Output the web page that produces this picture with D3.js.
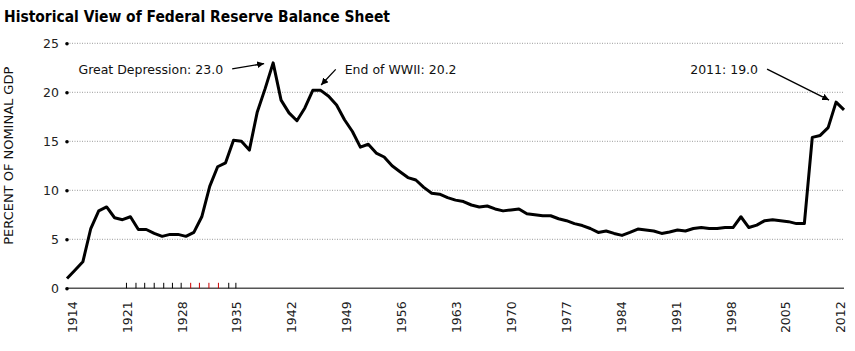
<!DOCTYPE html>
<html>
<head>
<meta charset="utf-8">
<script src="https://cdn.jsdelivr.net/npm/d3@7"></script>
<style>
  html, body { margin: 0; padding: 0; background: #fff; }
  svg { display: block; }
</style>
</head>
<body>
<div id="chart"></div>
<script>
// Fed balance sheet as % of nominal GDP, one value per year 1914..2012
const firstYear = 1914
const fedPct = [
  1.0, 1.85, 2.7, 6.1, 7.9, 8.3, 7.2, 7.0, 7.3, 6.0,
  6.0, 5.6, 5.3, 5.5, 5.5, 5.3, 5.7, 7.3, 10.4, 12.4,
  12.8, 15.1, 15.0, 14.1, 18.0, 20.4, 23.0, 19.2, 17.9, 17.1,
  18.4, 20.2, 20.2, 19.6, 18.7, 17.2, 16.0, 14.4, 14.7, 13.8,
  13.4, 12.5, 11.9, 11.3, 11.05, 10.3, 9.7, 9.6, 9.25, 9.0,
  8.85, 8.5, 8.3, 8.4, 8.1, 7.9, 8.0, 8.1, 7.6, 7.5,
  7.4, 7.4, 7.1, 6.9, 6.6, 6.4, 6.1, 5.7, 5.85, 5.6,
  5.4, 5.7, 6.05, 5.95, 5.85, 5.6, 5.75, 5.95, 5.85, 6.1,
  6.2, 6.1, 6.1, 6.2, 6.2, 7.3, 6.2, 6.45, 6.9, 7.0,
  6.9, 6.8, 6.6, 6.6, 15.4, 15.6, 16.4, 19.0, 18.2
]
const xTickYears = [1914, 1921, 1928, 1935, 1942, 1949, 1956, 1963, 1970, 1977, 1984, 1991, 1998, 2005, 2012]
const yTicks = [0, 5, 10, 15, 20, 25]

// small marks above the axis in the late 1920s / early 1930s
const markYears = [1921.5, 1922.7, 1923.8, 1925.0, 1926.2, 1927.3, 1928.4, 1929.6, 1930.7, 1931.9, 1933.1, 1934.4, 1935.3]
const markRed = [false, false, false, false, false, false, false, true, true, true, true, false, false]

const noteLabels = ["Great Depression: 23.0", "End of WWII: 20.2", "2011: 19.0"]
const noteYears = [1940, 1946, 2011]
const noteValues = [23.0, 20.2, 19.0]

const data = fedPct.map((v, i) => ({ year: firstYear + i, value: v }))

const width = 855
const height = 351
const plotLeft = 67, plotRight = 844, plotTop = 43.3, plotBottom = 288.3

const svg = d3.select("#chart")
  .append("svg")
  .attr("width", width)
  .attr("height", height)

const x = d3.scaleLinear().domain([1914, 2012]).range([plotLeft, plotRight])
const y = d3.scaleLinear().domain([0, 25]).range([plotBottom, plotTop])
// the category labels sit a little inside the line's ends
const xLabel = d3.scaleLinear().domain([1914, 2012]).range([plotLeft + 4.7, plotRight - 3.7])

const font = "'DejaVu Sans', Verdana, sans-serif"

// title
svg.append("text")
  .attr("x", 4)
  .attr("y", 22)
  .attr("font-family", font)
  .attr("font-weight", "bold")
  .attr("font-size", "15.5px")
  .attr("textLength", 386)
  .attr("lengthAdjust", "spacingAndGlyphs")
  .attr("fill", "#000")
  .text("Historical View of Federal Reserve Balance Sheet")

// y axis title
svg.append("text")
  .attr("transform", `translate(13,${(66.5 + 245) / 2}) rotate(-90)`)
  .attr("text-anchor", "middle")
  .attr("font-family", font)
  .attr("font-size", "12.5px")
  .attr("textLength", 178)
  .attr("lengthAdjust", "spacingAndGlyphs")
  .attr("fill", "#111")
  .text("PERCENT OF NOMINAL GDP")

// gridlines (dotted)
const grid = svg.append("g")
yTicks.filter(d => d > 0).forEach(t => {
  grid.append("line")
    .attr("x1", x(1914))
    .attr("x2", x(2012))
    .attr("y1", y(t))
    .attr("y2", y(t))
    .attr("stroke", "#9a9a9a")
    .attr("stroke-width", 1)
    .attr("stroke-dasharray", "1,1.5")
})

// x axis line at 0
svg.append("line")
  .attr("x1", x(1914))
  .attr("x2", x(2012))
  .attr("y1", y(0))
  .attr("y2", y(0))
  .attr("stroke", "#555")
  .attr("stroke-width", 1.5)

// y axis: labels and dots
const yAxis = svg.append("g")
  .attr("transform", `translate(${x(1914)},0)`)
  .call(d3.axisLeft(y).tickValues(yTicks).tickSize(0).tickPadding(8))
yAxis.select(".domain").remove()
yAxis.selectAll("text")
  .attr("font-family", font)
  .attr("font-size", "12.5px")
  .attr("fill", "#222")
yAxis.selectAll(".tick").append("circle")
  .attr("r", 1.8)
  .attr("fill", "#000")

// x axis labels, rotated
const xAxis = svg.append("g")
  .attr("transform", `translate(0,${y(0)})`)
  .call(d3.axisBottom(xLabel).tickValues(xTickYears).tickFormat(d3.format("d")).tickSize(0))
xAxis.select(".domain").remove()
xAxis.selectAll("text")
  .attr("font-family", font)
  .attr("font-size", "12.5px")
  .attr("fill", "#222")
  .attr("text-anchor", "end")
  .attr("transform", "rotate(-90)")
  .attr("x", -13)
  .attr("y", 0)
  .attr("dy", "0.36em")

// small marks
svg.append("g").selectAll("line")
  .data(markYears)
  .join("line")
  .attr("x1", d => x(d))
  .attr("x2", d => x(d))
  .attr("y1", y(0) - 5.5)
  .attr("y2", y(0))
  .attr("stroke", (d, i) => markRed[i] ? "#cc0000" : "#000")
  .attr("stroke-width", 1)

// the series
const line = d3.line()
  .x(d => x(d.year))
  .y(d => y(d.value))

svg.append("path")
  .datum(data)
  .attr("fill", "none")
  .attr("stroke", "#000")
  .attr("stroke-width", 3)
  .attr("stroke-linejoin", "round")
  .attr("d", line)

// arrow head
svg.append("defs").append("marker")
  .attr("id", "arrow")
  .attr("viewBox", "0 0 10 10")
  .attr("refX", 10)
  .attr("refY", 5)
  .attr("markerWidth", 7)
  .attr("markerHeight", 7)
  .attr("markerUnits", "userSpaceOnUse")
  .attr("orient", "auto")
  .append("path")
  .attr("d", "M0,0 L10,5 L0,10 z")
  .attr("fill", "#000")

// annotations: text position and arrow start/tip offsets relative to the data point
const noteLayout = [
  { anchor: "end", tx: -50, ax1: -41, ay1: 6, ax2: -9, ay2: 0.7 },
  { anchor: "start", tx: 24, ax1: 15, ay1: -21, ax2: 0.4, ay2: -5.4 },
  { anchor: "end", tx: -78, ax1: -69, ay1: -33, ax2: -7, ay2: -2 }
]
const textBase = 74
noteLabels.forEach((label, i) => {
  const px = x(noteYears[i]), py = y(noteValues[i])
  const L = noteLayout[i]
  svg.append("text")
    .attr("x", px + L.tx)
    .attr("y", textBase)
    .attr("text-anchor", L.anchor)
    .attr("font-family", font)
    .attr("font-size", "12.5px")
    .attr("fill", "#111")
    .text(label)
  svg.append("line")
    .attr("x1", px + L.ax1)
    .attr("y1", py + L.ay1)
    .attr("x2", px + L.ax2)
    .attr("y2", py + L.ay2)
    .attr("stroke", "#000")
    .attr("stroke-width", 1.3)
    .attr("marker-end", "url(#arrow)")
})
</script>
</body>
</html>
